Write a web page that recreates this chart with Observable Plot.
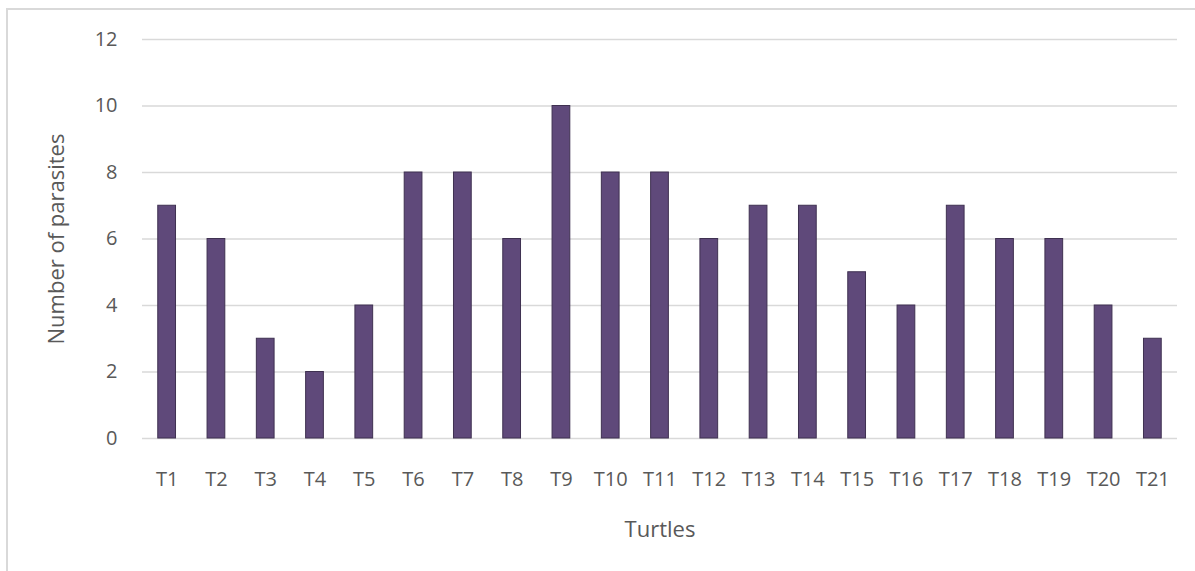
<!DOCTYPE html>
<html>
<head>
<meta charset="utf-8">
<script src="https://cdn.jsdelivr.net/npm/d3@7"></script>
<script src="https://cdn.jsdelivr.net/npm/@observablehq/plot@0.6"></script>
<style>
  html, body { margin: 0; padding: 0; background: #fff; overflow: hidden; }
  #wrap { position: relative; width: 1195px; height: 571px; overflow: hidden; }
  #frame {
    position: absolute; left: 6px; top: 8px; width: 1300px; height: 700px;
    border: 2px solid #d9d9d9; box-sizing: border-box;
  }
  #chart { position: absolute; left: 0; top: 0; }
</style>
</head>
<body>
<div id="wrap"><div id="frame"></div><div id="chart"></div></div>
<script>
// Parasite counts per turtle
const turtles = ["T1","T2","T3","T4","T5","T6","T7","T8","T9","T10","T11",
                 "T12","T13","T14","T15","T16","T17","T18","T19","T20","T21"];
const parasites = [7, 6, 3, 2, 4, 8, 8, 6, 10, 8, 8, 6, 7, 7, 5, 4, 7, 6, 6, 4, 3];
const yTicks = [0, 2, 4, 6, 8, 10, 12];
const xTitle = "Turtles";
const yTitle = "Number of parasites";

const rows = turtles.map((t, i) => ({turtle: t, count: parasites[i]}));
const textColor = "#595959";

const chart = Plot.plot({
  width: 1195,
  height: 571,
  marginLeft: 142,
  marginRight: 18,
  marginTop: 39,
  marginBottom: 133,
  style: {fontFamily: "'Open Sans', sans-serif", fontSize: "20px", color: textColor, background: "transparent"},
  // bars centred in equal slots, one slot per turtle
  x: {domain: turtles, paddingInner: 0.64, paddingOuter: 0.32, round: false, label: null},
  y: {domain: [0, 12], label: null},
  marks: [
    Plot.ruleY(yTicks, {stroke: "#d9d9d9", strokeWidth: 1.5}),
    Plot.barY(rows, {x: "turtle", y: "count", fill: "#5f497a", stroke: "#3f3151", strokeWidth: 1}),
    Plot.axisY({ticks: yTicks, tickSize: 0, tickPadding: 25, label: null, fill: textColor, fontSize: 20}),
    Plot.axisX({tickSize: 0, tickPadding: 33, label: null, fill: textColor, fontSize: 20}),
    Plot.text([xTitle], {frameAnchor: "bottom", dy: 91, lineAnchor: "middle", textAnchor: "middle", fontSize: 22, fill: textColor}),
    Plot.text([yTitle], {frameAnchor: "left", dx: -86, rotate: -90, lineAnchor: "middle", textAnchor: "middle", fontSize: 22, fill: textColor})
  ]
});
document.getElementById("chart").appendChild(chart);
</script>
</body>
</html>
